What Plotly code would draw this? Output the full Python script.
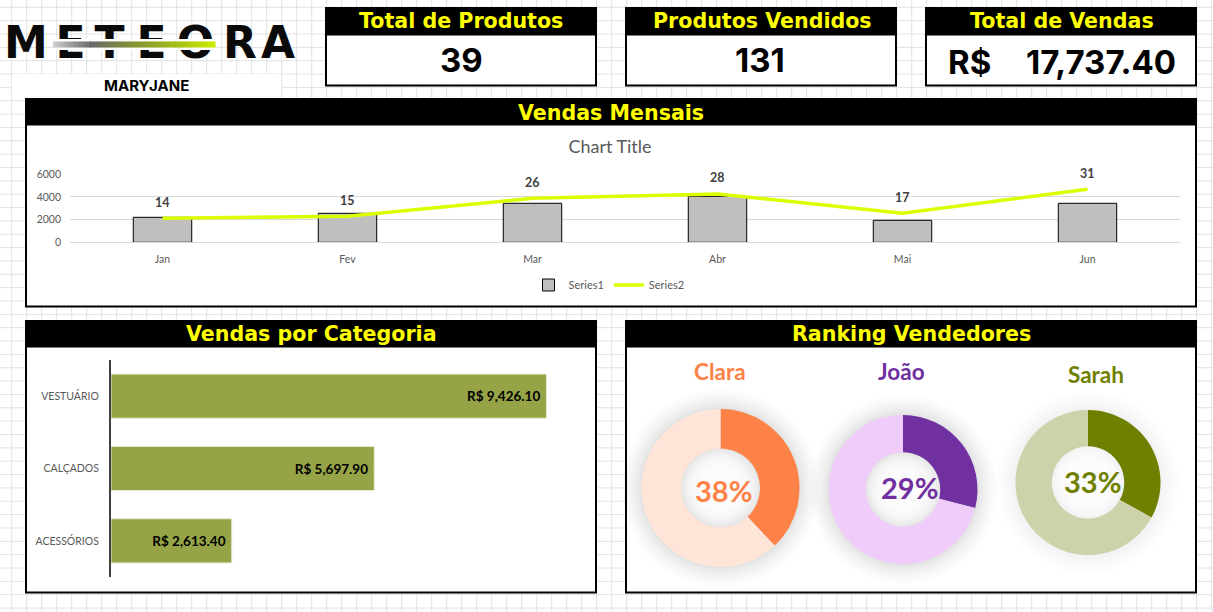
import plotly.graph_objects as go

W, H = 1213, 612

# data
meses = ["Jan", "Fev", "Mar", "Abr", "Mai", "Jun"]
vendas_mes = [2206, 2559, 3441, 4059, 1941, 3441]
linha_mes = [2118, 2294, 3882, 4265, 2559, 4676]
qtd_mes = [14, 15, 26, 28, 17, 31]

categorias = ["VESTUÁRIO", "CALÇADOS", "ACESSÓRIOS"]
vendas_categoria = [9426.10, 5697.90, 2613.40]

vendedores = ["Clara", "João", "Sarah"]
percentuais = [38, 29, 33]
cores_forte = ["#FD8248", "#7030A0", "#6F8000"]
cores_fraca = ["#FFE4D8", "#F0CCFB", "#CDD2AB"]

FONT_HEAD = "DejaVu Sans"
FONT_NUM = "Inter"
FONT_CHART = "Lato"
GRAY = "#595959"


def px(x):
    return x / W


def py(y):
    return 1 - y / H


def rect(x0, y0, x1, y1, fill="white", line=None, width=0, layer="below"):
    return dict(type="rect", xref="paper", yref="paper", x0=px(x0), x1=px(x1), y0=py(y0), y1=py(y1),
                fillcolor=fill, line=dict(color=line or fill, width=width), layer=layer)


def circle(cx, cy, r, fill):
    return dict(type="circle", xref="paper", yref="paper", x0=px(cx - r), x1=px(cx + r), y0=py(cy + r), y1=py(cy - r),
                fillcolor=fill, line=dict(width=0), layer="below")


def label(x, y, text, size, color="black", family=FONT_NUM, weight=700):
    return dict(xref="paper", yref="paper", x=px(x), y=py(y), text=text, showarrow=False,
                xanchor="center", yanchor="middle", font=dict(family=family, size=size, color=color, weight=weight))


shapes = []
annotations = []

# excel sheet grid
x = 11.7
while x < W:
    shapes.append(dict(type="line", xref="paper", yref="paper", x0=px(x), x1=px(x), y0=0, y1=1,
                       line=dict(color="#e2e2e2", width=1), layer="below"))
    x += 15
y = 7.3
while y < H:
    shapes.append(dict(type="line", xref="paper", yref="paper", x0=0, x1=1, y0=py(y), y1=py(y),
                       line=dict(color="#e2e2e2", width=1), layer="below"))
    y += 13.35

# name cell under the logo
shapes.append(rect(12, 74, 281, 98))
annotations.append(label(146, 86, "MARYJANE", 15))

# KPI boxes
kpis = [(326, 596, 461, "Total de Produtos"), (626, 896, 762, "Produtos Vendidos"), (926, 1196, 1062, "Total de Vendas")]
for x0, x1, xc, titulo in kpis:
    shapes.append(rect(x0, 8, x1, 85.5, "white", "black", 2))
    shapes.append(rect(x0, 8, x1, 35, "black", "black", 1))
    annotations.append(label(xc, 21.5, titulo, 20.6, "#FFFF00", FONT_HEAD))
annotations.append(label(461, 60, "39", 33))
annotations.append(label(760, 60, "131", 33))
annotations.append(label(969, 62, "R$", 33))
annotations.append(label(1101, 62, "17,737.40", 33))

# panels
for x0, y0, x1, y1, yh, xc, titulo in [
    (26, 99, 1196, 306.5, 125, 611, "Vendas Mensais"),
    (26, 321, 596, 592.5, 347, 311, "Vendas por Categoria"),
    (626, 321, 1196, 592.5, 347, 911, "Ranking Vendedores"),
]:
    shapes.append(rect(x0, y0, x1, y1, "white", "black", 2))
    shapes.append(rect(x0, y0, x1, yh, "black", "black", 1))
    annotations.append(label(xc, (y0 + yh) / 2 + 0.5, titulo, 20.6, "#FFFF00", FONT_HEAD))

fig = go.Figure()

# monthly chart
fig.add_trace(go.Bar(x=meses, y=vendas_mes, name="Series1", width=0.316,
                     marker=dict(color="#BFBFBF", line=dict(color="black", width=1)),
                     xaxis="x", yaxis="y", hoverinfo="skip"))
fig.add_trace(go.Scatter(x=meses, y=linha_mes, name="Series2", mode="lines",
                         line=dict(color="#DCFF00", width=3.5),
                         xaxis="x", yaxis="y", hoverinfo="skip"))
for mes, v, q in zip(meses, linha_mes, qtd_mes):
    annotations.append(dict(xref="x", yref="y", x=mes, y=v, text=str(q), showarrow=False, yshift=16,
                            font=dict(family=FONT_CHART, size=12.5, color="#404040", weight=700)))

# category chart
fig.add_trace(go.Bar(y=categorias, x=vendas_categoria, orientation="h", width=0.61, showlegend=False,
                     marker=dict(color="#96A346", line=dict(color="#E6E9D2", width=1)),
                     text=["R$ {:,.2f}\u00a0".format(v) for v in vendas_categoria],
                     textposition="inside", insidetextanchor="end", textangle=0,
                     insidetextfont=dict(family=FONT_CHART, size=13.5, color="black", weight=700),
                     xaxis="x2", yaxis="y2", hoverinfo="skip"))

# donuts
donuts = [(720.5, 488, 79, 372, 720, 723.5, 490, 0.15), (903, 489.5, 74.5, 372, 901.5, 909, 487.5, 0.15),
          (1088, 482.5, 72.5, 374, 1095.5, 1092, 481, 0.09)]
for i, (cx, cy, r, ynome, xnome, xpct, ypct, sombra) in enumerate(donuts):
    # soft shadow, stacked circles since shapes can't blur
    n = 16
    for k in range(n):
        shapes.append(circle(cx, cy, r + 20 * (1 - k / n) ** 1.6, "rgba(0,0,0,{:.4f})".format(sombra / n)))
    for k in range(10):
        shapes.append(circle(cx, cy, r * 0.5 * (1 - k * 0.05), "rgba(255,255,255,0.22)"))
    fig.add_trace(go.Pie(values=[percentuais[i], 100 - percentuais[i]], hole=0.5, sort=False, direction="clockwise",
                         rotation=0, textinfo="none", showlegend=False, hoverinfo="skip",
                         marker=dict(colors=[cores_forte[i], cores_fraca[i]], line=dict(width=0)),
                         domain=dict(x=[px(cx - r), px(cx + r)], y=[py(cy + r), py(cy - r)])))
    annotations.append(label(xnome, ynome, vendedores[i], 22.5, cores_forte[i], FONT_CHART))
    annotations.append(label(xpct, ypct, "{}%".format(percentuais[i]), 29, cores_forte[i], FONT_CHART))

# logo, as a text trace so the swoosh shapes can sit on top of the letters
letras = list("METEORA")
letras_x = [26, 70.5, 109.5, 151.5, 195.5, 240, 278]
fig.add_trace(go.Scatter(x=letras_x, y=[46.5] * 7, text=letras, mode="text", showlegend=False, hoverinfo="skip",
                         textfont=dict(family="DejaVu Sans", size=44, color="#0a0a0a", weight=700),
                         xaxis="x3", yaxis="y3"))
shapes.append(rect(53, 39, 215, 50, "white", layer="above"))
paradas = [(53, (205, 205, 205)), (90, (105, 105, 105)), (130, (130, 145, 55)), (175, (165, 190, 25)), (215, (208, 238, 0))]
for a, b in zip(paradas, paradas[1:]):
    xs = a[0]
    while xs < b[0]:
        t = (xs - a[0]) / (b[0] - a[0])
        cor = [int(a[1][c] + (b[1][c] - a[1][c]) * t) for c in range(3)]
        shapes.append(rect(xs, 41.5, xs + 2.5, 47.5, "rgb({},{},{})".format(*cor), layer="above"))
        xs += 2

fig.update_layout(
    width=W, height=H, margin=dict(l=0, r=0, t=0, b=0, autoexpand=False), paper_bgcolor="white",
    plot_bgcolor="rgba(0,0,0,0)", shapes=shapes, annotations=annotations, hovermode=False,
    title=dict(text="Chart Title", x=px(610), y=py(147), xanchor="center", yanchor="middle",
               font=dict(family=FONT_CHART, size=18, color=GRAY)),
    legend=dict(orientation="h", x=px(609), y=py(285), xanchor="center", yanchor="middle",
                font=dict(family=FONT_CHART, size=11, color=GRAY), bgcolor="rgba(0,0,0,0)"),
    xaxis=dict(domain=[px(70), px(1180)], anchor="y", tickfont=dict(family=FONT_CHART, size=10.5, color=GRAY),
               showline=True, linecolor="#d9d9d9", linewidth=1, ticks="", ticklabelstandoff=7, showgrid=False),
    yaxis=dict(domain=[py(242.3), py(174.3)], anchor="x", range=[0, 6000], tickvals=[0, 2000, 4000, 6000],
               tickfont=dict(family=FONT_CHART, size=10.5, color=GRAY), gridcolor="#d9d9d9", gridwidth=1,
               zeroline=False, ticks="", ticklabelstandoff=8),
    xaxis2=dict(domain=[px(111), px(573)], anchor="y2", range=[0, 10000], visible=False),
    yaxis2=dict(domain=[py(577), py(360)], anchor="x2", autorange="reversed", showline=True, linecolor="#404040",
                linewidth=2, ticks="", ticklabelstandoff=8, showgrid=False,
                tickfont=dict(family=FONT_CHART, size=10.5, color=GRAY)),
    xaxis3=dict(domain=[0, 1], anchor="y3", range=[0, W], visible=False, fixedrange=True),
    yaxis3=dict(domain=[0, 1], anchor="x3", range=[H, 0], visible=False, fixedrange=True),
)

fig.write_html("out.html", config=dict(displayModeBar=False), post_script="document.body.style.margin='0';")
